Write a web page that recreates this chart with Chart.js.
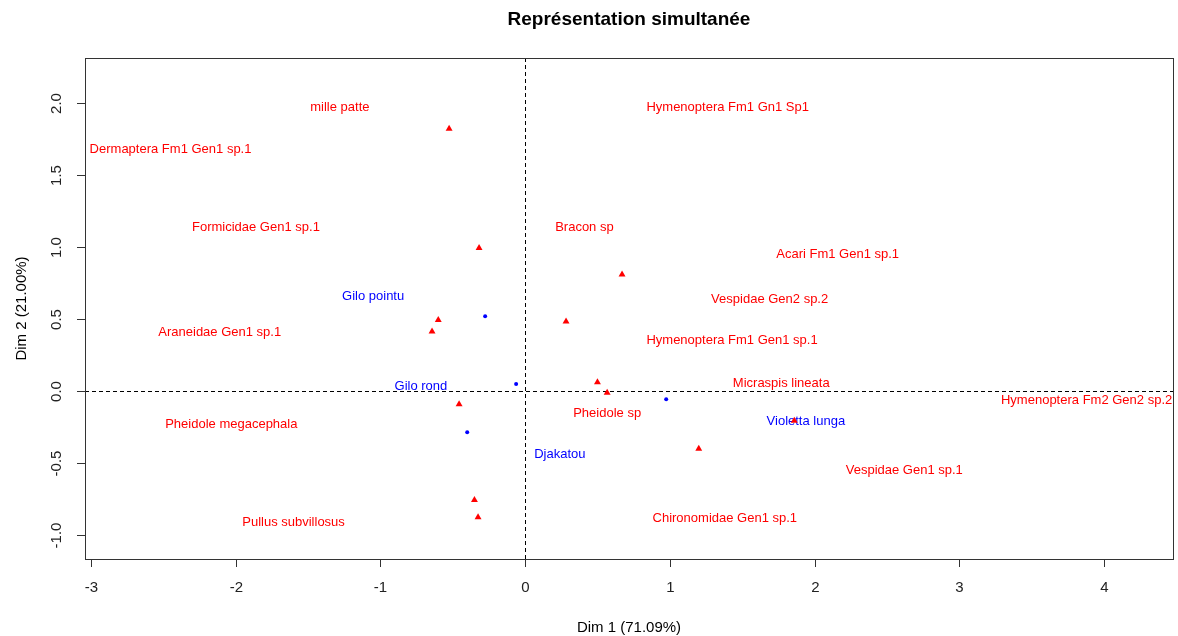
<!DOCTYPE html>
<html>
<head>
<meta charset="utf-8">
<script src="https://cdn.jsdelivr.net/npm/chart.js@4.4.0/dist/chart.umd.min.js"></script>
<style>
  body { margin: 0; background: #fff; }
  #wrap { width: 1178px; height: 636px; }
</style>
</head>
<body>
<div id="wrap"><canvas id="caChart" width="1178" height="636"></canvas></div>
<script>
// Column points (species) - red triangles
const speciesX = [-0.525, -0.318, -0.60, -0.643, 0.283, 0.67, 0.50, 0.567, -0.456, 1.20, 1.86, -0.35, -0.325];
const speciesY = [1.823, 0.995, 0.495, 0.415, 0.485, 0.81, 0.062, -0.011, -0.09, -0.40, -0.205, -0.755, -0.875];

// Row points (varieties) - blue dots
const varietyX = [-0.276, -0.062, 0.975, -0.40];
const varietyY = [0.52, 0.050, -0.055, -0.285];

// Text labels and where they sit
const speciesLabels = [
    'mille patte', 'Dermaptera Fm1 Gen1 sp.1', 'Formicidae Gen1 sp.1', 'Araneidae Gen1 sp.1',
    'Pheidole megacephala', 'Pullus subvillosus', 'Hymenoptera Fm1 Gn1 Sp1', 'Bracon sp',
    'Acari Fm1 Gen1 sp.1', 'Vespidae Gen2 sp.2', 'Hymenoptera Fm1 Gen1 sp.1', 'Micraspis lineata',
    'Hymenoptera Fm2 Gen2 sp.2', 'Pheidole sp', 'Vespidae Gen1 sp.1', 'Chironomidae Gen1 sp.1'
];
const speciesLabelX = [-1.28, -2.45, -1.86, -2.11, -2.03, -1.60, 1.40, 0.41, 2.16, 1.69, 1.43, 1.77, 3.88, 0.567, 2.62, 1.38];
const speciesLabelY = [1.97, 1.68, 1.14, 0.41, -0.23, -0.91, 1.97, 1.14, 0.95, 0.64, 0.35, 0.056, -0.063, -0.154, -0.55, -0.88];

const varietyLabels = ['Gilo pointu', 'Gilo rond', 'Djakatou', 'Violetta lunga'];
const varietyLabelX = [-1.05, -0.72, 0.24, 1.94];
const varietyLabelY = [0.657, 0.035, -0.44, -0.21];

const xTicks = [-3, -2, -1, 0, 1, 2, 3, 4];
const yTicks = [-1.0, -0.5, 0.0, 0.5, 1.0, 1.5, 2.0];

const FONT = 'Arial, "Liberation Sans", sans-serif';

function toPoints(xs, ys) {
    return xs.map((x, i) => ({ x: x, y: ys[i] }));
}

// Draws the R-style frame, ticks, dashed axes and text labels
const basePlot = {
    id: 'basePlot',
    beforeDatasetsDraw(chart) {
        const ctx = chart.ctx;
        const area = chart.chartArea;
        const xs = chart.scales.x;
        const ys = chart.scales.y;

        ctx.save();
        // dashed lines through origin
        ctx.strokeStyle = '#000';
        ctx.lineWidth = 1;
        ctx.setLineDash([4, 3]);
        const x0 = Math.round(xs.getPixelForValue(0)) + 0.5;
        const y0 = Math.round(ys.getPixelForValue(0)) + 0.5;
        ctx.beginPath();
        ctx.moveTo(x0, area.top);
        ctx.lineTo(x0, area.bottom);
        ctx.moveTo(area.left, y0);
        ctx.lineTo(area.right, y0);
        ctx.stroke();
        ctx.setLineDash([]);

        // labels
        ctx.font = '13px ' + FONT;
        ctx.textAlign = 'center';
        ctx.textBaseline = 'middle';
        ctx.fillStyle = '#ff0000';
        speciesLabels.forEach((txt, i) => {
            ctx.fillText(txt, xs.getPixelForValue(speciesLabelX[i]), ys.getPixelForValue(speciesLabelY[i]));
        });
        ctx.fillStyle = '#0000ff';
        varietyLabels.forEach((txt, i) => {
            ctx.fillText(txt, xs.getPixelForValue(varietyLabelX[i]), ys.getPixelForValue(varietyLabelY[i]));
        });
        ctx.restore();
    },
    afterDraw(chart) {
        const ctx = chart.ctx;
        const area = chart.chartArea;
        const xs = chart.scales.x;
        const ys = chart.scales.y;

        ctx.save();
        ctx.strokeStyle = '#333';
        ctx.lineWidth = 1;
        ctx.strokeRect(Math.round(area.left) + 0.5, Math.round(area.top) + 0.5,
            Math.round(area.right - area.left), Math.round(area.bottom - area.top));

        ctx.fillStyle = '#222';
        ctx.font = '15px ' + FONT;

        // x ticks
        ctx.textAlign = 'center';
        ctx.textBaseline = 'middle';
        xTicks.forEach(v => {
            const px = Math.round(xs.getPixelForValue(v)) + 0.5;
            ctx.beginPath();
            ctx.moveTo(px, area.bottom);
            ctx.lineTo(px, area.bottom + 8);
            ctx.stroke();
            ctx.fillText(String(v), px, area.bottom + 29);
        });

        // y ticks, rotated like R
        yTicks.forEach(v => {
            const py = Math.round(ys.getPixelForValue(v)) + 0.5;
            ctx.beginPath();
            ctx.moveTo(area.left - 8, py);
            ctx.lineTo(area.left, py);
            ctx.stroke();
            ctx.save();
            ctx.translate(area.left - 28, py);
            ctx.rotate(-Math.PI / 2);
            ctx.fillText(v.toFixed(1), 0, 0);
            ctx.restore();
        });

        // titles
        ctx.fillStyle = '#000';
        ctx.font = 'bold 19px ' + FONT;
        ctx.fillText('Représentation simultanée', (area.left + area.right) / 2, 20);

        ctx.font = '15px ' + FONT;
        ctx.fillText('Dim 1 (71.09%)', (area.left + area.right) / 2, 628);
        ctx.save();
        ctx.translate(22, (area.top + area.bottom) / 2);
        ctx.rotate(-Math.PI / 2);
        ctx.fillText('Dim 2 (21.00%)', 0, 0);
        ctx.restore();
        ctx.restore();
    }
};

new Chart(document.getElementById('caChart').getContext('2d'), {
    type: 'scatter',
    data: {
        datasets: [
            {
                label: 'Espèces',
                data: toPoints(speciesX, speciesY),
                pointStyle: 'triangle',
                pointRadius: 4,
                backgroundColor: '#ff0000',
                borderColor: '#ff0000',
                borderWidth: 0
            },
            {
                label: 'Variétés',
                data: toPoints(varietyX, varietyY),
                pointStyle: 'circle',
                pointRadius: 2,
                backgroundColor: '#0000ff',
                borderColor: '#0000ff',
                borderWidth: 0
            }
        ]
    },
    options: {
        responsive: false,
        animation: false,
        layout: {
            padding: { left: 85, right: 5, top: 58, bottom: 77 }
        },
        scales: {
            x: { type: 'linear', min: -3.041, max: 4.477, display: false },
            y: { type: 'linear', min: -1.165, max: 2.314, display: false }
        },
        plugins: {
            legend: { display: false },
            tooltip: { enabled: false }
        }
    },
    plugins: [basePlot]
});
</script>
</body>
</html>
